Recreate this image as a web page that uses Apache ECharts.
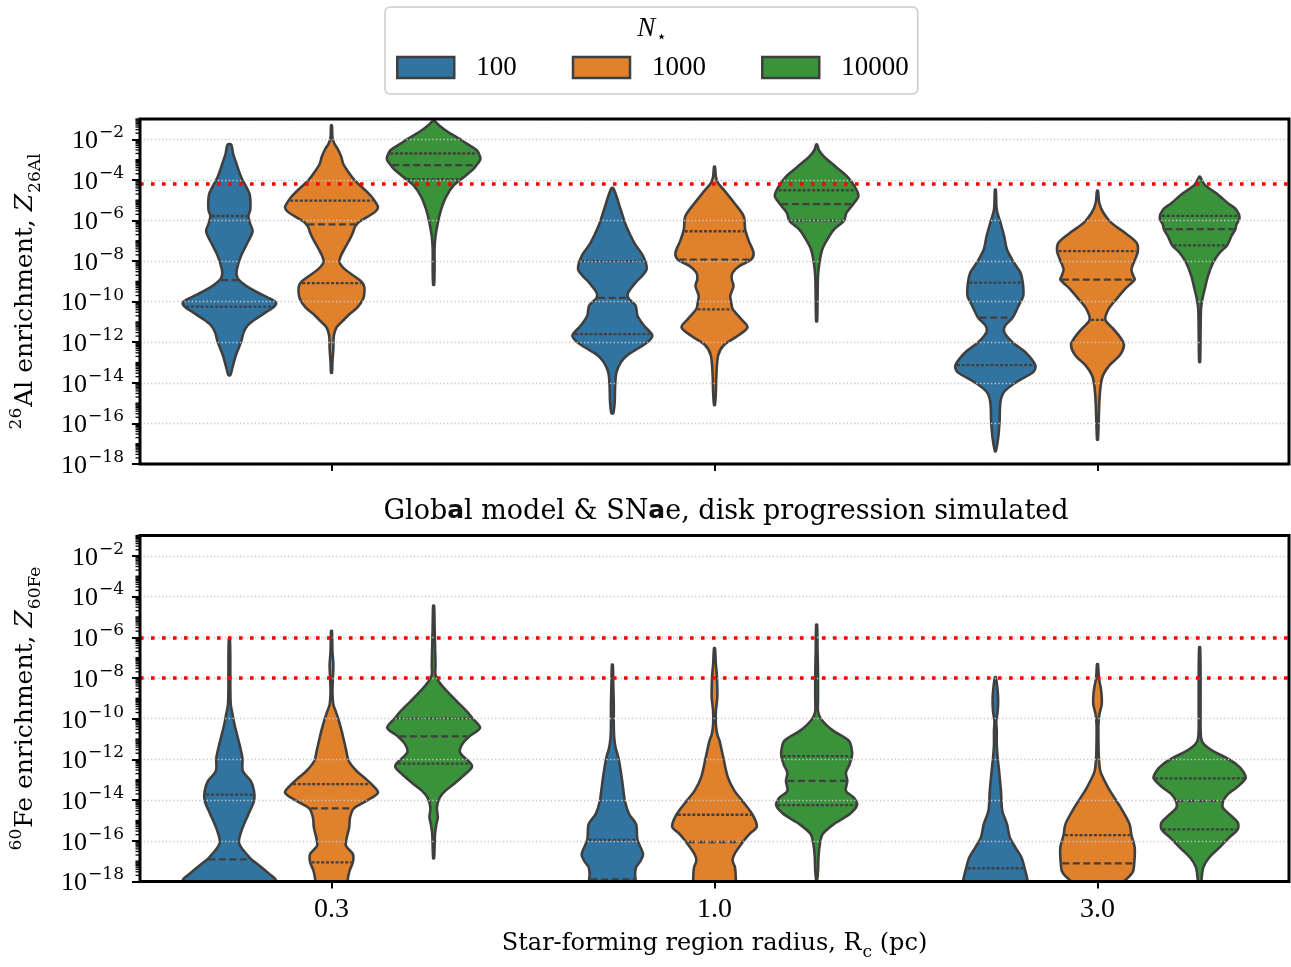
<!DOCTYPE html>
<html><head><meta charset="utf-8">
<script src="https://cdn.jsdelivr.net/npm/echarts@6/dist/echarts.min.js"></script>
<style>html,body{margin:0;padding:0;background:#fff}#chart{width:1291px;height:967px}</style>
</head><body><div id="chart"></div>
<script>
// ---------------- DATA ----------------
const categories = ['0.3', '1.0', '3.0'];           // star-forming region radius R_c (pc)
const starCounts = ['100', '1000', '10000'];        // N_star (hue)
const majorTickExponents = [-18, -16, -14, -12, -10, -8, -6, -4, -2];
const al26Reference = [-4.21];                       // log10 Z of red dotted line, top panel
const fe60Reference = [-6.0, -8.0];                  // log10 Z of red dotted lines, bottom panel

// violin profiles: [log10 Z, relative density (1 = widest violin)]
const al26_r03_n100 = [[-2.26,0.04],[-2.70,0.08],[-3.19,0.15],[-3.84,0.25],[-4.33,0.36],[-4.74,0.44],[-5.47,0.45],[-5.78,0.41],[-6.12,0.44],[-6.53,0.50],[-7.10,0.39],[-7.75,0.25],[-8.41,0.16],[-8.73,0.16],[-8.94,0.21],[-9.22,0.36],[-9.55,0.61],[-9.79,0.82],[-10.04,1.0],[-10.25,0.96],[-10.52,0.79],[-10.85,0.57],[-11.18,0.39],[-11.50,0.31],[-11.99,0.25],[-12.64,0.14],[-13.30,0.06],[-13.62,0.02]];
const al26_r03_n1000 = [[-1.32,0.01],[-1.89,0.02],[-2.21,0.06],[-2.46,0.13],[-2.86,0.21],[-3.19,0.25],[-3.60,0.36],[-4.00,0.49],[-4.41,0.68],[-4.82,0.86],[-5.15,0.96],[-5.34,1.0],[-5.55,0.95],[-5.80,0.79],[-6.04,0.61],[-6.29,0.51],[-6.61,0.46],[-6.94,0.39],[-7.35,0.29],[-7.75,0.20],[-8.05,0.17],[-8.32,0.25],[-8.65,0.43],[-8.98,0.63],[-9.22,0.70],[-9.51,0.71],[-9.87,0.68],[-10.28,0.56],[-10.61,0.39],[-10.93,0.25],[-11.26,0.11],[-11.67,0.05],[-12.32,0.04],[-12.97,0.02],[-13.51,0.01]];
const al26_r03_n10000 = [[-1.07,0.01],[-1.32,0.12],[-1.64,0.31],[-1.97,0.55],[-2.21,0.71],[-2.54,0.93],[-2.86,1.0],[-3.03,1.0],[-3.19,0.95],[-3.43,0.87],[-3.84,0.66],[-4.25,0.44],[-4.82,0.27],[-5.47,0.16],[-6.12,0.09],[-6.78,0.04],[-7.43,0.02],[-8.41,0.02],[-9.17,0.01]];
const al26_r10_n100 = [[-4.41,0.02],[-4.82,0.09],[-5.47,0.18],[-6.29,0.30],[-7.10,0.47],[-7.75,0.66],[-8.37,0.74],[-8.73,0.64],[-9.06,0.50],[-9.55,0.34],[-9.81,0.34],[-10.20,0.50],[-10.69,0.54],[-11.18,0.68],[-11.67,0.86],[-11.99,0.76],[-12.32,0.54],[-12.64,0.32],[-12.97,0.19],[-13.46,0.09],[-14.11,0.06],[-14.93,0.05],[-15.50,0.02]];
const al26_r10_n1000 = [[-3.35,0.01],[-3.84,0.03],[-4.17,0.08],[-4.49,0.20],[-5.15,0.43],[-5.80,0.63],[-6.45,0.66],[-7.02,0.74],[-7.59,0.84],[-7.93,0.79],[-8.24,0.54],[-8.57,0.39],[-8.89,0.37],[-9.22,0.41],[-9.71,0.34],[-10.04,0.36],[-10.36,0.39],[-10.85,0.57],[-11.26,0.71],[-11.67,0.51],[-12.15,0.20],[-12.64,0.08],[-13.62,0.04],[-14.44,0.03],[-15.09,0.01]];
const al26_r10_n10000 = [[-2.26,0.01],[-2.54,0.05],[-2.86,0.16],[-3.35,0.41],[-3.84,0.66],[-4.33,0.82],[-4.79,0.90],[-5.19,0.79],[-5.63,0.64],[-6.01,0.59],[-6.45,0.37],[-6.94,0.23],[-7.43,0.12],[-8.08,0.06],[-8.73,0.03],[-9.87,0.02],[-10.97,0.01]];
const al26_r30_n100 = [[-4.49,0.01],[-5.47,0.03],[-6.12,0.11],[-6.78,0.19],[-7.43,0.25],[-8.08,0.40],[-8.57,0.54],[-9.06,0.59],[-9.71,0.60],[-10.20,0.50],[-10.79,0.37],[-11.18,0.21],[-11.50,0.19],[-11.99,0.36],[-12.48,0.64],[-13.13,0.86],[-13.46,0.82],[-13.95,0.46],[-14.44,0.19],[-14.93,0.11],[-15.91,0.09],[-16.72,0.06],[-17.37,0.01]];
const al26_r30_n1000 = [[-4.54,0.01],[-5.15,0.04],[-5.63,0.13],[-6.12,0.30],[-6.61,0.59],[-7.10,0.84],[-7.51,0.87],[-7.92,0.81],[-8.41,0.73],[-8.73,0.77],[-8.91,0.80],[-9.38,0.59],[-9.87,0.41],[-10.36,0.24],[-10.90,0.17],[-11.34,0.34],[-11.83,0.51],[-12.15,0.57],[-12.64,0.48],[-13.13,0.26],[-13.62,0.12],[-14.11,0.07],[-14.93,0.04],[-16.80,0.01]];
const al26_r30_n10000 = [[-3.84,0.01],[-4.25,0.11],[-4.66,0.36],[-5.15,0.61],[-5.47,0.79],[-5.88,0.86],[-6.21,0.79],[-6.43,0.77],[-6.78,0.68],[-7.23,0.59],[-7.59,0.43],[-8.08,0.29],[-8.73,0.18],[-9.38,0.11],[-9.87,0.06],[-10.36,0.03],[-11.50,0.02],[-12.97,0.01]];

const fe60_r03_n100 = [[-6.05,0.01],[-7.02,0.02],[-8.33,0.02],[-9.31,0.03],[-9.80,0.07],[-10.29,0.11],[-11.10,0.20],[-11.92,0.28],[-12.57,0.29],[-13.06,0.46],[-13.55,0.53],[-14.04,0.53],[-14.69,0.41],[-15.51,0.26],[-16.13,0.21],[-16.81,0.43],[-17.30,0.69],[-17.63,0.86],[-17.92,1.0],[-18.5,1.0]];
const fe60_r03_n1000 = [[-5.69,0.01],[-6.70,0.02],[-7.35,0.04],[-8.00,0.03],[-8.66,0.02],[-9.31,0.04],[-9.63,0.09],[-10.12,0.16],[-10.61,0.22],[-11.10,0.27],[-11.59,0.32],[-12.08,0.37],[-12.57,0.54],[-12.90,0.71],[-13.22,0.86],[-13.63,1.0],[-14.04,0.75],[-14.41,0.48],[-14.85,0.40],[-15.34,0.38],[-15.83,0.33],[-16.24,0.31],[-16.65,0.46],[-17.06,0.46],[-17.46,0.39],[-17.92,0.35],[-18.5,0.34]];
const fe60_r03_n10000 = [[-4.45,0.01],[-5.39,0.02],[-6.37,0.03],[-7.35,0.04],[-7.84,0.04],[-8.17,0.11],[-8.66,0.29],[-9.15,0.50],[-9.63,0.71],[-9.99,0.84],[-10.45,1.0],[-10.87,0.77],[-11.27,0.61],[-11.67,0.57],[-12.21,0.80],[-12.41,0.82],[-12.73,0.68],[-13.22,0.43],[-13.55,0.25],[-13.88,0.13],[-14.37,0.07],[-14.85,0.09],[-15.18,0.06],[-15.67,0.03],[-16.32,0.02],[-16.86,0.01]];
const fe60_r10_n100 = [[-7.35,0.01],[-8.33,0.02],[-9.31,0.03],[-10.29,0.03],[-10.94,0.04],[-11.43,0.07],[-11.92,0.13],[-12.57,0.18],[-13.22,0.22],[-14.04,0.27],[-14.69,0.36],[-15.18,0.51],[-15.95,0.54],[-16.65,0.66],[-16.98,0.61],[-17.30,0.51],[-17.63,0.49],[-17.92,0.50],[-18.5,0.50]];
const fe60_r10_n1000 = [[-6.54,0.01],[-7.35,0.03],[-7.84,0.05],[-8.49,0.06],[-8.98,0.06],[-9.63,0.03],[-10.29,0.03],[-10.78,0.06],[-11.10,0.11],[-11.92,0.19],[-12.90,0.29],[-13.55,0.43],[-14.04,0.60],[-14.72,0.82],[-15.31,0.91],[-15.67,0.75],[-16.06,0.61],[-16.65,0.43],[-16.98,0.39],[-17.30,0.44],[-17.92,0.46],[-18.5,0.46]];
const fe60_r10_n10000 = [[-5.39,0.01],[-6.70,0.02],[-7.84,0.03],[-8.98,0.03],[-9.63,0.03],[-9.96,0.08],[-10.29,0.20],[-10.61,0.37],[-11.10,0.70],[-11.59,0.76],[-11.84,0.76],[-12.24,0.71],[-12.65,0.63],[-13.06,0.66],[-13.55,0.63],[-13.88,0.80],[-14.25,0.87],[-14.69,0.71],[-15.18,0.37],[-15.67,0.13],[-16.16,0.07],[-16.81,0.04],[-17.47,0.03],[-17.92,0.01]];
const fe60_r30_n100 = [[-7.97,0.01],[-8.66,0.05],[-9.15,0.06],[-9.63,0.05],[-10.12,0.02],[-10.61,0.03],[-11.27,0.03],[-11.92,0.05],[-12.57,0.08],[-13.55,0.12],[-14.53,0.15],[-15.18,0.25],[-15.83,0.31],[-16.32,0.43],[-16.81,0.56],[-17.35,0.63],[-17.92,0.69],[-18.5,0.72]];
const fe60_r30_n1000 = [[-7.32,0.01],[-8.00,0.03],[-8.49,0.07],[-8.90,0.09],[-9.31,0.09],[-9.80,0.04],[-10.29,0.02],[-11.10,0.02],[-11.92,0.03],[-12.57,0.06],[-12.90,0.12],[-13.55,0.27],[-14.37,0.50],[-15.18,0.69],[-15.72,0.73],[-16.32,0.80],[-16.81,0.80],[-17.11,0.79],[-17.47,0.77],[-17.71,0.70],[-17.92,0.60],[-18.3,0.40]];
const fe60_r30_n10000 = [[-6.49,0.01],[-7.84,0.02],[-9.47,0.02],[-10.94,0.03],[-11.27,0.10],[-11.59,0.29],[-11.92,0.57],[-12.24,0.79],[-12.57,0.93],[-12.93,0.99],[-13.39,0.79],[-13.71,0.61],[-14.04,0.51],[-14.37,0.50],[-14.69,0.64],[-15.10,0.82],[-15.44,0.82],[-15.83,0.64],[-16.32,0.43],[-16.81,0.21],[-17.30,0.08],[-17.92,0.04],[-18.3,0.03]];

// quartiles per category: [Q1, median, Q3] in log10 Z (null = below the axis, not visible)
const al26_quart_n100 = [[-10.25,-8.94,-5.78],[-11.60,-9.81,-8.00],[-13.13,-10.79,-9.06]];
const al26_quart_n1000 = [[-9.09,-6.19,-5.02],[-10.38,-7.93,-6.53],[-10.90,-8.91,-7.51]];
const al26_quart_n10000 = [[-3.96,-3.27,-2.70],[-6.01,-5.19,-4.51],[-7.23,-6.43,-5.77]];
const fe60_quart_n100 = [[null,-16.91,-13.73],[null,-17.90,-15.95],[null,null,-17.35]];
const fe60_quart_n1000 = [[-17.06,-14.41,-13.22],[null,-16.06,-14.72],[null,-17.11,-15.72]];
const fe60_quart_n10000 = [[-12.21,-10.87,-9.99],[-14.25,-13.06,-11.84],[-15.44,-14.04,-12.93]];

// ---------------- STYLE ----------------
const hueColors = ['#3274a1', '#e1812c', '#3a923a'];
const edgeColor = '#3f3f3f';
const serif = 'Liberation Serif';
const serif2 = 'DejaVu Serif';

const chart = echarts.init(document.getElementById('chart'), null, {renderer: 'canvas'});

function widthAt(prof, v) {
  for (let i = 0; i < prof.length - 1; i++) {
    const a = prof[i], b = prof[i + 1];
    if (v <= a[0] && v >= b[0]) { const t = (a[0] - v) / (a[0] - b[0]); return a[1] + t * (b[1] - a[1]); }
  }
  return null;
}

function violinSeries(name, g, hue, profiles, quartiles) {
  return {
    type: 'custom', name: name, xAxisIndex: g, yAxisIndex: g, clip: true, z: 3,
    itemStyle: {color: hueColors[hue]},
    encode: {x: 0, y: 1},
    data: profiles.map((p, i) => [i, p[0][0]]),
    renderItem: function (params, api) {
      const ci = api.value(0);
      const prof = profiles[ci];
      const band = api.size([1, 0])[0];
      const cx = api.coord([ci, -10])[0] + (hue - 1) * band * 0.8 / 3;
      const maxHalf = band * 0.1213;
      const right = prof.map(p => [cx + p[1] * maxHalf, api.coord([ci, p[0]])[1]]);
      const left = prof.slice().reverse().map(p => [cx - p[1] * maxHalf, api.coord([ci, p[0]])[1]]);
      const children = [{
        type: 'polygon', shape: {points: right.concat(left), smooth: 0.3},
        style: {fill: hueColors[hue], stroke: edgeColor, lineWidth: 2.6, lineJoin: 'round'}
      }];
      const q = quartiles[ci];
      q.forEach((val, k) => {
        if (val === null) return;
        const d = widthAt(prof, val);
        if (d === null) return;
        const y = api.coord([ci, val])[1];
        const hw = Math.max(d * maxHalf - 1.5, 0);
        children.push({
          type: 'line', shape: {x1: cx - hw, y1: y, x2: cx + hw, y2: y},
          style: {stroke: edgeColor, lineWidth: 2.3, lineDash: k === 1 ? [7, 3.5] : [3, 1.8]}
        });
      });
      return {type: 'group', children: children};
    }
  };
}

// axis decoration: log minor ticks (2..9 x 10^n and odd decades)
const logSubs = [1, 2, 3, 4, 5, 6, 7, 8, 9];
const minorTicks = [];
for (let n = -18; n <= -2; n++) {
  logSubs.forEach(k => {
    if (k === 1 && n % 2 === 0) return;
    const v = n + Math.log10(k);
    if (v < -1.001) minorTicks.push(v);
  });
}
minorTicks.push(-1);

function minorTickSeries(g, refs) {
  return {
    type: 'custom', xAxisIndex: g, yAxisIndex: g, clip: false, z: 20, silent: true,
    encode: {x: 0, y: 1},
    data: minorTicks.map(v => [0, v]),
    renderItem: function (params, api) {
      const y = api.coord([0, api.value(1)])[1];
      const x = params.coordSys.x;
      return {type: 'line', shape: {x1: x - 4.5, y1: y, x2: x, y2: y}, style: {stroke: '#000', lineWidth: 1.3}};
    },
    markLine: {
      silent: true, symbol: ['none', 'none'], label: {show: false}, animation: false,
      lineStyle: {color: '#ff0000', width: 3.6, type: [3.6, 7.4], opacity: 1},
      data: refs.map(v => ({yAxis: v}))
    }
  };
}

const tickRich = {
  b: {fontFamily: serif, fontSize: 26, color: '#000', verticalAlign: 'bottom'},
  s: {fontFamily: serif2, fontSize: 17, color: '#000', verticalAlign: 'bottom', padding: [0, 0, 13, 1]}
};
function tickFormatter(v) {
  if (Math.abs(v - Math.round(v)) > 1e-6 || Math.round(v) % 2 !== 0) return '';
  return '{b|10}{s|\u2212' + Math.abs(Math.round(v)) + '}';
}
function makeNameRich(size) {
  return {
    r: {fontFamily: serif2, fontSize: size, fontWeight: 'normal', color: '#000', verticalAlign: 'bottom', padding: [0, 0, 6, 0]},
    it: {fontFamily: serif2, fontSize: size, fontStyle: 'italic', fontWeight: 'normal', color: '#000', verticalAlign: 'bottom', padding: [0, 0, 6, 0]},
    sup: {fontFamily: serif2, fontSize: 17, fontWeight: 'normal', color: '#000', verticalAlign: 'bottom', padding: [0, 1, 19, 0]},
    sub: {fontFamily: serif2, fontSize: 17, fontWeight: 'normal', color: '#000', verticalAlign: 'bottom', padding: [0, 0, 0, 1]}
  };
}

function yAxis(g, name) {
  return {
    type: 'value', gridIndex: g, min: -18, max: -1, interval: 2, z: 5,
    axisLine: {show: false},
    axisTick: {show: true, length: 8, lineStyle: {color: '#000', width: 2}},
    axisLabel: {formatter: tickFormatter, rich: tickRich, margin: 16, showMaxLabel: false},
    splitLine: {show: true, lineStyle: {color: '#c8c8c8', width: 1.3, type: [1.3, 2.4]}},
    name: name, nameLocation: 'middle', nameRotate: 90, nameGap: 96,
    nameTextStyle: {rich: makeNameRich(25)}
  };
}
function xAxis(g, showLabels) {
  return {
    type: 'category', gridIndex: g, data: categories, boundaryGap: true,
    axisLine: {show: false},
    axisTick: {show: true, alignWithLabel: true, length: 7, lineStyle: {color: '#000', width: 2}},
    axisLabel: {show: showLabels, fontFamily: serif, fontSize: 28, color: '#000', margin: 14},
    splitLine: {show: false},
    name: showLabels ? '{r|Star-forming region radius, R}{sub|c}{r| (pc)}' : '',
    nameLocation: 'middle', nameGap: 50,
    nameTextStyle: {rich: makeNameRich(24)}
  };
}

const option = {
  animation: false,
  backgroundColor: '#ffffff',
  title: {
    text: '{r|Glob}{sa|a}{r|l model & SN}{sa|a}{r|e, disk progression simulated}',
    left: 721, top: 493, textAlign: 'center',
    textStyle: {fontWeight: 'normal', rich: {
      r: {fontFamily: serif2, fontSize: 27, fontWeight: 'normal', color: '#000', verticalAlign: 'bottom'},
      sa: {fontFamily: 'DejaVu Sans', fontSize: 25, fontWeight: 'bold', color: '#111', verticalAlign: 'bottom', padding: [0, 0, 1, 0]}
    }}
  },
  legend: {
    data: starCounts.map(n => ({name: n, icon: 'rect'})),
    left: 385, top: 7, orient: 'horizontal',
    padding: [47, 9, 13, 11],
    itemWidth: 57, itemHeight: 21, itemGap: 55,
    borderColor: '#cccccc', borderWidth: 1.5, borderRadius: 5,
    backgroundColor: 'rgba(255,255,255,0.8)',
    itemStyle: {borderColor: edgeColor, borderWidth: 2.5},
    textStyle: {fontFamily: serif, fontSize: 27, color: '#000', padding: [0, 0, 0, 17]},
    selectedMode: false
  },
  graphic: [{
    type: 'text', x: 652, y: 31, z: 100,
    style: {
      text: '{n|N}{s|\u22c6}', align: 'center', verticalAlign: 'middle',
      rich: {
        n: {fontFamily: serif, fontSize: 27, fontStyle: 'italic', color: '#000', verticalAlign: 'bottom', padding: [0, 0, 4, 0]},
        s: {fontFamily: 'DejaVu Sans', fontSize: 17, color: '#000', verticalAlign: 'bottom', padding: [0, 0, 0, 1]}
      }
    }
  }],
  grid: [
    {left: 135, top: 119, width: 1154, height: 345, show: true, borderColor: '#000', borderWidth: 3, backgroundColor: 'transparent', z: 10},
    {left: 135, top: 535.5, width: 1154, height: 346, show: true, borderColor: '#000', borderWidth: 3, backgroundColor: 'transparent', z: 10}
  ],
  xAxis: [xAxis(0, false), xAxis(1, true)],
  yAxis: [
    yAxis(0, '{sup|26}{r|Al enrichment, }{it|Z}{sub|26Al}'),
    yAxis(1, '{sup|60}{r|Fe enrichment, }{it|Z}{sub|60Fe}')
  ],
  series: [
    violinSeries('100', 0, 0, [al26_r03_n100, al26_r10_n100, al26_r30_n100], al26_quart_n100),
    violinSeries('1000', 0, 1, [al26_r03_n1000, al26_r10_n1000, al26_r30_n1000], al26_quart_n1000),
    violinSeries('10000', 0, 2, [al26_r03_n10000, al26_r10_n10000, al26_r30_n10000], al26_quart_n10000),
    violinSeries('100', 1, 0, [fe60_r03_n100, fe60_r10_n100, fe60_r30_n100], fe60_quart_n100),
    violinSeries('1000', 1, 1, [fe60_r03_n1000, fe60_r10_n1000, fe60_r30_n1000], fe60_quart_n1000),
    violinSeries('10000', 1, 2, [fe60_r03_n10000, fe60_r10_n10000, fe60_r30_n10000], fe60_quart_n10000),
    minorTickSeries(0, al26Reference),
    minorTickSeries(1, fe60Reference)
  ]
};
chart.setOption(option);
</script>
</body></html>
